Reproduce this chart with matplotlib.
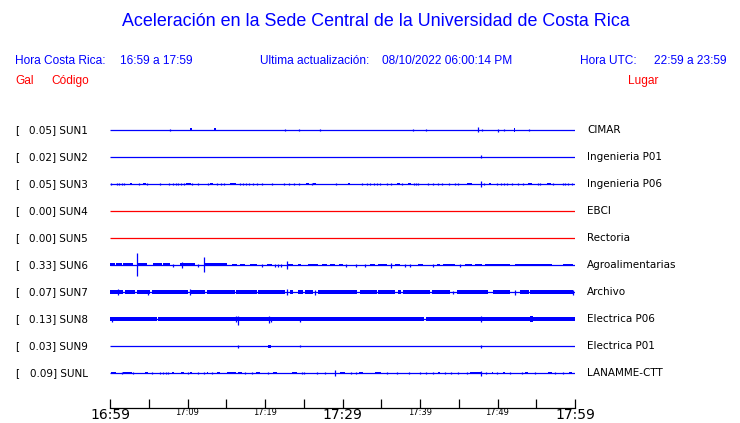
import matplotlib
matplotlib.use("Agg")
import matplotlib.pyplot as plt

# ---------------- data ----------------
codes = ["SUN1", "SUN2", "SUN3", "SUN4", "SUN5", "SUN6", "SUN7", "SUN8", "SUN9", "SUNL"]
gal = ["0.05", "0.02", "0.05", "0.00", "0.00", "0.33", "0.07", "0.13", "0.03", "0.09"]
places = ["CIMAR", "Ingenieria P01", "Ingenieria P06", "EBCI", "Rectoria",
          "Agroalimentarias", "Archivo", "Electrica P06", "Electrica P01", "LANAMME-CTT"]
trace_colors = ["#0000ff", "#0000ff", "#0000ff", "#ff0000", "#ff0000",
                "#0000ff", "#0000ff", "#0000ff", "#0000ff", "#0000ff"]

# time axis (minutes after 16:59)
tick_minutes = [0, 5, 10, 15, 20, 25, 30, 35, 40, 45, 50, 55, 60]
tick_labels = ["16:59", "", "17:09", "", "17:19", "", "17:29", "", "17:39", "", "17:49", "", "17:59"]
major_labels = ["16:59", "17:29", "17:59"]

# spikes: (minute, amplitude up, amplitude down); segments: (start, end, half amplitude)
sun1_spikes = [(7.8, 1.3, 1.3), (22.6, 1.3, 1.3), (24.4, 0.8, 0.8), (27.1, 1.2, 1.2),
               (39.1, 0.8, 0.8), (40.8, 1.3, 1.3), (47.5, 2.5, 2.5), (48.0, 1.3, 1.3),
               (50.1, 0.5, 2.0), (50.9, 1.3, 1.3), (54.1, 1.3, 1.3)]
sun1_segments = [(10.3, 10.6, 1.5), (13.4, 13.7, 1.5), (52.1, 52.3, 2.0)]

sun2_spikes = [(47.9, 1.5, 1.5)]
sun2_segments = []

sun3_tick_times = [0.13, 0.86, 1.2, 1.5, 1.8, 3.7, 4.8, 6.45, 7.65, 8.1, 8.56, 8.8, 9.16, 9.6,
                   10.6, 11.3, 12.6, 13.8, 14.3, 14.7, 16.8, 17.2, 17.6, 17.9, 18.4, 19.0, 19.6,
                   20.9, 22.4, 23.1, 23.7, 24.4, 26.0, 29.1, 32.5, 33.1, 33.5, 34.1, 34.4, 34.8,
                   35.8, 36.3, 37.7, 39.2, 39.5, 39.7, 41.0, 41.7, 42.3, 42.8, 43.7, 44.5, 44.9,
                   48.3, 49.9, 50.5, 50.9, 51.2, 51.9, 52.6, 53.3, 55.2, 55.5, 57.2, 58.4, 58.7,
                   59.1, 59.6]
sun3_spikes = [(t, 1.3, 1.3) for t in sun3_tick_times] + [(47.9, 3.0, 3.0)]
sun3_segments = [(2.55, 2.9, 1.3), (4.2, 4.6, 1.3), (9.8, 10.4, 1.3), (12.95, 13.3, 1.3),
                 (15.5, 16.3, 1.3), (25.35, 25.65, 1.3), (26.25, 26.55, 1.3), (30.65, 30.95, 1.2),
                 (37.0, 37.4, 1.3), (38.4, 38.8, 1.3), (46.0, 46.7, 1.3), (48.85, 49.15, 1.3),
                 (53.9, 54.5, 1.3), (56.35, 56.85, 1.3)]

sun4_spikes, sun4_segments = [], []
sun5_spikes, sun5_segments = [], []

sun6_tick_times = [8.17, 11.4, 19.57, 21.3, 21.7, 22.0, 30.5, 31.7, 32.9, 38.06, 38.7, 41.7, 45.2]
sun6_spikes = [(t, 1.5, 1.5) for t in sun6_tick_times] + [
    (3.53, 12.3, 11.3), (12.17, 7.7, 7.3), (22.88, 3.7, 3.7), (9.25, 2.7, 2.7), (36.26, 2.5, 2.5)]
sun6_segments = [(0.0, 0.65, 1.5), (0.77, 1.5, 1.5), (1.72, 3.0, 1.5), (3.66, 4.73, 1.5),
                 (5.59, 6.7, 1.5), (6.9, 7.74, 1.5), (9.03, 10.97, 1.5), (12.26, 15.05, 1.5),
                 (15.7, 16.35, 1.4), (16.77, 17.42, 1.4), (18.06, 18.92, 1.4), (20.2, 20.86, 1.4),
                 (23.0, 23.66, 1.4), (24.3, 24.7, 1.4), (25.6, 26.9, 1.4), (27.3, 28.0, 1.4),
                 (28.4, 29.0, 1.4), (29.5, 30.1, 1.4), (33.55, 34.2, 1.4), (34.6, 35.7, 1.4),
                 (36.8, 37.4, 1.4), (39.8, 40.4, 1.4), (42.15, 42.6, 1.4), (43.0, 44.5, 1.4),
                 (45.8, 46.7, 1.4), (47.1, 48.0, 1.4), (48.4, 51.6, 1.4), (52.3, 57.0, 1.4),
                 (58.5, 59.8, 1.4)]

sun7_spikes = [(1.07, 3.0, 3.0), (4.86, 2.5, 2.5), (10.3, 3.0, 3.0), (22.9, 3.0, 3.0),
               (26.4, 2.5, 2.5), (44.3, 1.5, 1.5), (52.26, 2.5, 2.5), (59.8, 2.5, 2.5)]
sun7_segments = [(0.0, 1.72, 1.7), (1.94, 3.2, 1.7), (3.44, 5.16, 1.7), (5.38, 10.1, 1.7),
                 (10.45, 12.26, 1.7), (12.47, 16.13, 1.7), (16.26, 18.92, 1.7), (19.14, 22.58, 1.7),
                 (23.2, 23.65, 1.7), (24.3, 24.95, 1.7), (25.16, 26.24, 1.7), (26.9, 31.83, 1.7),
                 (32.26, 34.4, 1.7), (34.6, 36.77, 1.7), (37.2, 37.6, 1.7), (37.85, 41.3, 1.7),
                 (41.5, 43.87, 1.7), (44.73, 48.8, 1.7), (49.46, 51.6, 1.7), (52.9, 54.0, 1.7),
                 (54.2, 59.8, 1.7)]

sun8_spikes = [(0.3, 1.8, 2.5), (16.2, 3.0, 3.0), (16.56, 3.3, 5.7), (20.56, 3.5, 3.5),
               (20.77, 2.5, 2.5), (24.56, 2.5, 2.5), (47.9, 3.0, 3.0)]
sun8_segments = [(0.0, 6.02, 1.9), (6.24, 40.56, 1.9), (40.73, 60.0, 1.9), (54.25, 54.55, 2.6)]

sun9_spikes = [(16.47, 1.5, 1.5), (24.47, 1.3, 1.3), (47.9, 1.5, 1.5)]
sun9_segments = [(20.43, 20.77, 1.5)]

sunl_tick_times = [1.5, 3.01, 5.38, 6.45, 6.88, 7.18, 7.53, 10.02, 11.31, 12.17, 13.1, 17.42,
                   18.37, 20.43, 24.73, 25.07, 26.67, 27.74, 31.1, 31.7, 35.7, 36.99, 38.58,
                   40.0, 40.73, 41.7, 43.2, 44.0, 44.95, 46.0, 48.47, 49.9, 51.6, 53.1, 54.84,
                   57.4, 58.5]
sunl_spikes = [(t, 1.3, 1.3) for t in sunl_tick_times] + [(29.03, 3.0, 3.0), (47.9, 2.5, 2.5)]
sunl_segments = [(0.13, 0.73, 1.3), (1.72, 2.8, 1.3), (4.5, 4.86, 1.3), (7.96, 8.26, 1.3),
                 (9.16, 9.59, 1.3), (10.32, 10.62, 1.3), (12.47, 12.69, 1.3), (13.76, 14.19, 1.3),
                 (15.05, 16.2, 1.3), (16.56, 17.08, 1.3), (18.9, 19.35, 1.3), (21.07, 21.5, 1.3),
                 (23.5, 24.08, 1.3), (29.68, 30.32, 1.3), (32.13, 32.7, 1.3), (34.19, 34.97, 1.3),
                 (42.28, 42.58, 1.3), (46.45, 47.96, 1.3), (49.25, 49.46, 1.3), (50.75, 50.97, 1.3),
                 (53.55, 53.98, 1.3), (56.56, 56.99, 1.3), (59.27, 59.57, 1.3)]

all_spikes = [sun1_spikes, sun2_spikes, sun3_spikes, sun4_spikes, sun5_spikes,
              sun6_spikes, sun7_spikes, sun8_spikes, sun9_spikes, sunl_spikes]
all_segments = [sun1_segments, sun2_segments, sun3_segments, sun4_segments, sun5_segments,
                sun6_segments, sun7_segments, sun8_segments, sun9_segments, sunl_segments]

# ---------------- layout ----------------
W, H = 740, 423
AMP_UNITS_PER_TRACE = 27.0
BLUE = "#0000ff"
RED = "#ff0000"
HEAD_FONT = ["Liberation Sans", "DejaVu Sans"]
BODY_FONT = ["DejaVu Sans"]
HS = 8.6

fig = plt.figure(figsize=(W / 100, H / 100), dpi=100)
fig.patch.set_facecolor("white")


def fx(px):
    return px / W


def fy(py):
    return 1 - py / H


# header texts
fig.text(fx(376), fy(22), "Aceleración en la Sede Central de la Universidad de Costa Rica",
         ha="center", va="center", color=BLUE, fontsize=12.9, family=HEAD_FONT)
row1 = fy(61)
fig.text(fx(15), row1, "Hora Costa Rica:", ha="left", va="center", color=BLUE, fontsize=HS, family=HEAD_FONT)
fig.text(fx(120), row1, "16:59 a 17:59", ha="left", va="center", color=BLUE, fontsize=HS, family=HEAD_FONT)
fig.text(fx(260), row1, "Ultima actualización:", ha="left", va="center", color=BLUE, fontsize=HS, family=HEAD_FONT)
fig.text(fx(382), row1, "08/10/2022 06:00:14 PM", ha="left", va="center", color=BLUE, fontsize=HS, family=HEAD_FONT)
fig.text(fx(580), row1, "Hora UTC:", ha="left", va="center", color=BLUE, fontsize=HS, family=HEAD_FONT)
fig.text(fx(727), row1, "22:59 a 23:59", ha="right", va="center", color=BLUE, fontsize=HS, family=HEAD_FONT)
row2 = fy(81)
fig.text(fx(15), row2, "Gal", ha="left", va="center", color=RED, fontsize=HS, family=HEAD_FONT)
fig.text(fx(51), row2, "Código", ha="left", va="center", color=RED, fontsize=HS, family=HEAD_FONT)
fig.text(fx(628), row2, "Lugar", ha="left", va="center", color=RED, fontsize=HS, family=HEAD_FONT)

# trace axes: index -1 at pixel 103, index 10 at pixel 400 (27 px per trace)
ax = fig.add_axes([fx(110), fy(400), fx(575) - fx(110), (400 - 103) / H])
ax.set_xlim(0, 60)
ax.set_ylim(10, -1)
ax.axis("off")

for i, (code, g, place, col) in enumerate(zip(codes, gal, places, trace_colors)):
    ax.hlines(i, 0, 60, color=col, lw=0.9)
    for (s, e, a) in all_segments[i]:
        a_ = a / AMP_UNITS_PER_TRACE
        ax.fill_between([s, e], i - a_, i + a_, color=col, lw=0, antialiased=True)
    for (t, up, dn) in all_spikes[i]:
        ax.vlines(t, i - up / AMP_UNITS_PER_TRACE, i + dn / AMP_UNITS_PER_TRACE, color=col, lw=0.9)
    ypix = fy(130 + 27 * i)
    fig.text(fx(15), ypix, "[", ha="left", va="center", fontsize=7.5, family=BODY_FONT, color="black")
    fig.text(fx(88), ypix, f"{g}] {code}", ha="right", va="center", fontsize=7.5,
             family=BODY_FONT, color="black")
    fig.text(fx(587), ypix, place, ha="left", va="center", fontsize=7.5,
             family=BODY_FONT, color="black")

# time axis
tax = fig.add_axes([fx(110), fy(408), fx(575) - fx(110), 0.001])
tax.set_xlim(0, 60)
tax.set_ylim(0, 1)
tax.patch.set_visible(False)
for side in ["top", "left", "right"]:
    tax.spines[side].set_visible(False)
tax.spines["bottom"].set_linewidth(0.9)
tax.set_yticks([])
tax.set_xticks(tick_minutes)
tax.set_xticklabels(tick_labels, family=BODY_FONT)
tax.tick_params(axis="x", direction="in", length=6.5, width=0.9, pad=0, colors="black")
for lab in tax.get_xticklabels():
    lab.set_fontsize(10 if lab.get_text() in major_labels else 6)

fig.savefig("out.png", dpi=100)
